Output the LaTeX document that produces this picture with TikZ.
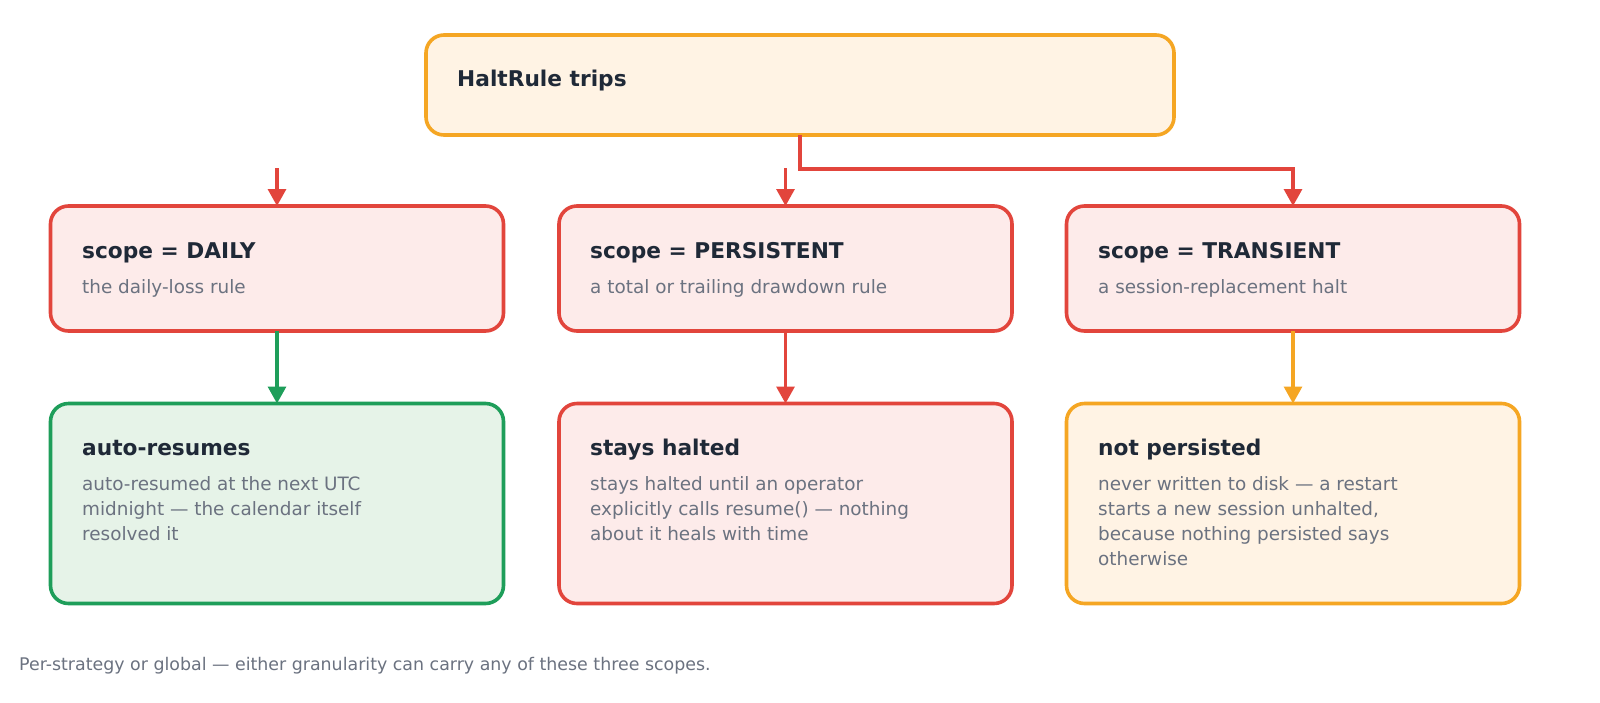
\documentclass[tikz,border=0pt]{standalone}
\usepackage{fontspec}
\setmainfont{DejaVu Sans}
\usetikzlibrary{arrows.meta}
\definecolor{orB}{HTML}{F5A623}
\definecolor{orF}{HTML}{FFF3E4}
\definecolor{rdB}{HTML}{E2453C}
\definecolor{rdF}{HTML}{FDEBEA}
\definecolor{gnB}{HTML}{1E9E5A}
\definecolor{gnF}{HTML}{E6F3E8}
\definecolor{ttl}{HTML}{1F2937}
\definecolor{dsc}{HTML}{6B7280}
\tikzset{
  card/.style={rectangle, rounded corners=18pt, line width=3.6pt, anchor=north west, inner sep=0pt, outer sep=0pt},
  redcard/.style={card, draw=rdB, fill=rdF},
  orcard/.style={card, draw=orB, fill=orF},
  gncard/.style={card, draw=gnB, fill=gnF},
  ttltext/.style={anchor=base west, inner sep=0pt, text=ttl, font=\fontsize{21.7}{25}\selectfont\bfseries},
  dsctext/.style={anchor=north west, inner sep=0pt, text=dsc, align=left, font=\fontsize{18.4}{25}\selectfont},
  arr/.style={line width=3.2pt, -{Triangle[length=17pt,width=18pt]}},
}
\newcommand{\fl}{\rule{0pt}{20pt}}
\begin{document}
\begin{tikzpicture}[x=1pt,y=-1pt]
\useasboundingbox[fill=white] (0,0) rectangle (1600,702);
% top
\node[orcard, minimum width=748pt, minimum height=100pt] (top) at (426,35) {};
\node[ttltext] (toptitle) at (457,86) {HaltRule trips};
% row 2
\node[redcard, minimum width=453pt, minimum height=125pt] (s1) at (50.5,206) {};
\node[redcard, minimum width=453pt, minimum height=125pt] (s2) at (559,206) {};
\node[redcard, minimum width=453pt, minimum height=125pt] (s3) at (1066.5,206) {};
\node[ttltext] (s1t) at (82,258) {scope = DAILY};
\node[ttltext] (s2t) at (590,258) {scope = PERSISTENT};
\node[ttltext] (s3t) at (1098,258) {scope = TRANSIENT};
\node[dsctext] (s1d) at (82,273) {\fl the daily-loss rule};
\node[dsctext] (s2d) at (590,273) {\fl a total or trailing drawdown rule};
\node[dsctext] (s3d) at (1098,273) {\fl a session-replacement halt};
% row 3
\node[gncard, minimum width=453pt, minimum height=200pt] (r1) at (50.5,403.5) {};
\node[redcard, minimum width=453pt, minimum height=200pt] (r2) at (559,403.5) {};
\node[orcard, minimum width=453pt, minimum height=200pt] (r3) at (1066.5,403.5) {};
\node[ttltext] (r1t) at (82,455) {auto-resumes};
\node[ttltext] (r2t) at (590,455) {stays halted};
\node[ttltext] (r3t) at (1098,455) {not persisted};
\node[dsctext] (r1d) at (82,470.5) {\fl auto-resumed at the next UTC\\midnight — the calendar itself\\resolved it};
\node[dsctext] (r2d) at (590,470.5) {\fl stays halted until an operator\\explicitly calls resume() — nothing\\about it heals with time};
\node[dsctext] (r3d) at (1098,470.5) {\fl never written to disk — a restart\\starts a new session unhalted,\\because nothing persisted says\\otherwise};
% footer
\node[anchor=base west, inner sep=0pt, text=dsc, font=\fontsize{17.4}{20}\selectfont] (foot) at (19,670) {Per-strategy or global — either granularity can carry any of these three scopes.};
% connectors
\coordinate (bend) at (800,169);
\coordinate (stub1) at (277,168);
\coordinate (stub2) at (785.5,168);
\draw[arr, rdB] (top.south) -- (bend) -| (s3.north);
\draw[arr, rdB] (stub1) -- (s1.north);
\draw[arr, rdB] (stub2) -- (s2.north);
\draw[arr, gnB] (s1.south) -- (r1.north);
\draw[arr, rdB] (s2.south) -- (r2.north);
\draw[arr, orB] (s3.south) -- (r3.north);
\end{tikzpicture}
\end{document}
